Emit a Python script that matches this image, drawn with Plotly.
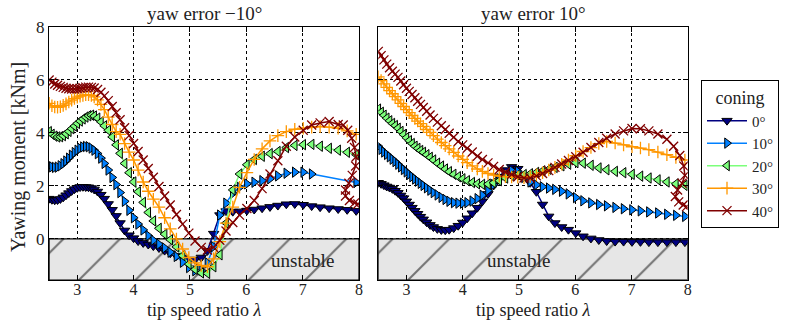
import plotly.graph_objects as go

# ---------------- data ----------------
LAM = [2.50, 2.55, 2.60, 2.65, 2.70, 2.75, 2.80, 2.85, 2.90, 2.95,
       3.00, 3.05, 3.10, 3.15, 3.20, 3.25, 3.30, 3.36, 3.42, 3.48,
       3.55, 3.62, 3.69, 3.76, 3.84, 3.92, 4.00, 4.08, 4.17, 4.26,
       4.35, 4.45, 4.55, 4.65, 4.76, 4.87, 4.98, 5.09, 5.20, 5.31,
       5.42, 5.53, 5.64, 5.76, 5.88, 6.01, 6.14, 6.28, 6.42, 6.56,
       6.71, 6.86, 7.01, 7.16, 7.31, 7.47, 7.63, 7.79, 7.95]

# yaw error -10 deg
L_C0 = [1.52, 1.48, 1.46, 1.47, 1.51, 1.57, 1.65, 1.73, 1.81, 1.88,
        1.93, 1.96, 1.97, 1.96, 1.95, 1.92, 1.87, 1.79, 1.67, 1.52,
        1.32, 1.10, 0.87, 0.60, 0.32, 0.14, 0.03, -0.08, -0.15, -0.21,
        -0.27, -0.34, -0.44, -0.54, -0.64, -0.72, -0.78, -0.78, -0.70, -0.45,
        0.20, 0.90, 1.05, 1.03, 1.04, 1.07, 1.11, 1.16, 1.21, 1.26,
        1.31, 1.32, 1.29, 1.24, 1.20, 1.16, 1.13, 1.10, 1.06]
L_C10 = [2.78, 2.72, 2.70, 2.71, 2.76, 2.84, 2.94, 3.05, 3.16, 3.26,
         3.35, 3.42, 3.47, 3.49, 3.48, 3.43, 3.35, 3.22, 3.05, 2.85,
         2.60, 2.32, 2.05, 1.75, 1.42, 1.08, 0.80, 0.56, 0.34, 0.12,
         -0.05, -0.20, -0.34, -0.50, -0.66, -0.88, -1.08, -1.20, -1.18, -0.90,
         -0.29, 0.90, 1.35, 1.72, 1.95, 2.08, 2.14, 2.20, 2.27, 2.38,
         2.48, 2.52, 2.52, 2.45, None, None, None, None, 2.13]
L_C20 = [4.05, 3.95, 3.88, 3.85, 3.86, 3.90, 3.97, 4.06, 4.16, 4.26,
         4.36, 4.45, 4.53, 4.60, 4.65, 4.67, 4.64, 4.56, 4.42, 4.27,
         4.10, 3.85, 3.55, 3.23, 2.85, 2.50, 2.15, 1.78, 1.38, 1.00,
         0.68, 0.40, 0.18, -0.03, -0.30, -0.63, -0.95, -1.15, -1.28, -1.30,
         -1.05, -0.60, 0.60, 1.85, 2.45, 2.80, 3.00, 3.12, 3.22, 3.30,
         3.45, 3.53, 3.56, 3.57, 3.50, 3.42, 3.35, 3.27, 3.18]
L_C30 = [5.12, 5.03, 4.98, 4.97, 4.99, 5.04, 5.10, 5.17, 5.24, 5.30,
         5.35, 5.39, 5.42, 5.44, 5.44, 5.42, 5.36, 5.25, 5.08, 4.88,
         4.60, 4.32, 4.05, 3.95, 3.60, 3.28, 2.98, 2.60, 2.15, 1.80,
         1.50, 1.20, 0.80, 0.38, 0.00, -0.38, -0.70, -0.90, -1.00, -1.05,
         -0.75, -0.10, 0.60, 1.20, 1.95, 2.50, 3.00, 3.40, 3.70, 3.90,
         4.05, 4.14, 4.18, 4.22, 4.24, 4.22, 4.18, 4.08, 3.95]
L_C40_X = LAM[:57] + [7.72, 7.80, 7.87, 7.92, 7.95, 7.94, 7.88, 7.82,
                      7.76, 7.76, 7.83, 7.92, 7.98]
L_C40 = [6.00, 5.92, 5.85, 5.80, 5.76, 5.72, 5.69, 5.67, 5.66, 5.66,
         5.67, 5.69, 5.71, 5.73, 5.73, 5.72, 5.70, 5.64, 5.54, 5.40,
         5.22, 5.00, 4.76, 4.50, 4.20, 3.90, 3.60, 3.30, 2.98, 2.66,
         2.33, 1.98, 1.62, 1.28, 0.92, 0.56, 0.22, -0.08, -0.32, -0.42,
         -0.32, -0.05, 0.30, 0.62, 0.90, 1.15, 1.45, 1.90, 2.45, 2.95,
         3.50, 3.85, 4.10, 4.30, 4.38, 4.43, 4.32,
         4.30, 4.10, 3.80, 3.45, 3.10, 2.75, 2.40, 2.10,
         1.85, 1.62, 1.45, 1.36, 1.32]

# yaw error +10 deg
R_C0 = [2.12, 2.08, 2.03, 1.98, 1.94, 1.89, 1.82, 1.74, 1.64, 1.54,
        1.42, 1.30, 1.18, 1.06, 0.95, 0.84, 0.74, 0.63, 0.53, 0.45,
        0.38, 0.34, 0.33, 0.35, 0.41, 0.50, 0.62, 0.78, 0.97, 1.18,
        1.42, 1.70, 2.02, 2.35, 2.60, 2.72, 2.65, 2.40, 2.12, 1.78,
        1.30, 0.85, 0.60, 0.45, 0.35, 0.22, 0.10, 0.02, -0.04, -0.08,
        -0.10, -0.10, -0.11, -0.11, -0.12, -0.12, -0.12, -0.12, -0.12]
R_C10 = [3.50, 3.38, 3.28, 3.19, 3.10, 3.01, 2.92, 2.82, 2.72, 2.62,
         2.53, 2.44, 2.35, 2.26, 2.18, 2.10, 2.02, 1.93, 1.84, 1.75,
         1.66, 1.57, 1.49, 1.42, 1.37, 1.35, 1.35, 1.37, 1.43, 1.52,
         1.65, 1.83, 2.05, 2.27, 2.45, 2.58, 2.55, 2.32, 2.15, 2.04,
         1.97, 1.92, 1.87, 1.80, 1.70, 1.56, 1.44, 1.36, 1.30, 1.25,
         1.19, 1.14, 1.10, 1.06, 1.02, 0.98, 0.93, 0.89, 0.85]
R_C20 = [4.90, 4.78, 4.67, 4.56, 4.46, 4.36, 4.28, 4.18, 4.06, 3.94,
         3.82, 3.71, 3.60, 3.50, 3.42, 3.34, 3.27, 3.18, 3.08, 2.98,
         2.86, 2.75, 2.64, 2.54, 2.44, 2.35, 2.27, 2.20, 2.13, 2.08,
         2.06, 2.07, 2.12, 2.20, 2.30, 2.38, 2.42, 2.43, 2.46, 2.51,
         2.57, 2.63, 2.70, 2.76, 2.82, 2.88, 2.86, 2.78, 2.68, 2.61,
         2.55, 2.50, 2.44, 2.37, 2.30, 2.23, 2.15, 2.08, 2.02]
R_C30 = [6.12, 5.98, 5.85, 5.72, 5.60, 5.48, 5.37, 5.25, 5.12, 5.00,
         4.88, 4.77, 4.66, 4.55, 4.45, 4.35, 4.25, 4.13, 4.02, 3.90,
         3.77, 3.64, 3.52, 3.40, 3.27, 3.13, 3.00, 2.88, 2.76, 2.64,
         2.55, 2.47, 2.41, 2.37, 2.35, 2.34, 2.33, 2.31, 2.35, 2.42,
         2.50, 2.60, 2.70, 2.82, 2.98, 3.14, 3.30, 3.45, 3.60, 3.68,
         3.62, 3.55, 3.48, 3.43, 3.37, 3.28, 3.18, 3.08, 2.98]
R_C40_X = LAM[:57] + [7.75, 7.86, 7.93, 7.95, 7.90, 7.82, 7.78, 7.84,
                      7.92, 7.98]
R_C40 = [7.08, 6.92, 6.76, 6.60, 6.46, 6.33, 6.22, 6.10, 5.96, 5.82,
         5.69, 5.57, 5.45, 5.33, 5.20, 5.08, 4.96, 4.82, 4.68, 4.55,
         4.41, 4.27, 4.13, 3.99, 3.84, 3.68, 3.55, 3.42, 3.28, 3.12,
         3.00, 2.87, 2.74, 2.62, 2.52, 2.43, 2.35, 2.30, 2.30, 2.38,
         2.47, 2.58, 2.70, 2.83, 2.96, 3.10, 3.27, 3.45, 3.64, 3.80,
         3.96, 4.08, 4.17, 4.16, 4.08, 3.96, 3.76,
         3.50, 3.15, 2.75, 2.40, 2.10, 1.85, 1.60, 1.40, 1.28, 1.22]

CONING = ["0°", "10°", "20°", "30°", "40°"]
PANEL_TITLES = ["yaw error \u221210°", "yaw error 10°"]
X_TICKS = [3, 4, 5, 6, 7, 8]
Y_TICKS = [0, 2, 4, 6, 8]
X_RANGE = [2.5, 8.0]
Y_RANGE = [-1.55, 8.0]

# ---------------- style ----------------
COLORS = ["#000080", "#0080ff", "#7cff7b", "#ff9700", "#800000"]
SYMBOLS = ["triangle-down", "triangle-right", "triangle-left", "cross-thin", "x-thin"]
FONT = "Liberation Serif"
FS = 19
TXT = "#222222"

fig = go.Figure()

panels = [
    (["x", "y"], [(LAM, L_C0), (LAM, L_C10), (LAM, L_C20), (LAM, L_C30), (L_C40_X, L_C40)]),
    (["x2", "y2"], [(LAM, R_C0), (LAM, R_C10), (LAM, R_C20), (LAM, R_C30), (R_C40_X, R_C40)]),
]

for pi, (ax, series) in enumerate(panels):
    # hatched unstable region
    fig.add_trace(go.Scatter(
        x=[X_RANGE[0], X_RANGE[1], X_RANGE[1], X_RANGE[0], X_RANGE[0]],
        y=[0, 0, Y_RANGE[0], Y_RANGE[0], 0],
        xaxis=ax[0], yaxis=ax[1], mode="lines", fill="toself",
        fillcolor="#e6e6e6",
        fillpattern=dict(shape="/", fgcolor="black", bgcolor="#e6e6e6",
                         size=40, solidity=0.05),
        line=dict(color="black", width=1.2), showlegend=False, hoverinfo="skip"))
    for i, (xs, ys) in enumerate(series):
        c = COLORS[i]
        if i < 3:
            mk = dict(symbol=SYMBOLS[i], size=9, color=c,
                      line=dict(color="black", width=1))
        else:
            mk = dict(symbol=SYMBOLS[i], size=9, color=c,
                      line=dict(color=c, width=1.3))
        fig.add_trace(go.Scatter(
            x=xs, y=ys, xaxis=ax[0], yaxis=ax[1], mode="lines+markers",
            connectgaps=True,
            line=dict(color=c, width=1.5), marker=mk,
            name=CONING[i], showlegend=(pi == 0)))

axis_common = dict(showline=True, linecolor="black", linewidth=1.2, mirror="ticks",
                   ticks="inside", ticklen=5, tickcolor="black",
                   showgrid=True, gridcolor="black", griddash="dot", gridwidth=1,
                   zeroline=False, automargin=False,
                   tickfont=dict(family=FONT, size=17, color=TXT))

xl = [49.1 / 799, 359.0 / 799]
xr = [378.3 / 799, 687.7 / 799]
yd = [(321 - 280.0) / 321, (321 - 27.0) / 321]

xtick_font = dict(family=FONT, size=16, color=TXT)

fig.update_layout(
    width=799, height=321, margin=dict(l=0, r=0, t=0, b=0),
    paper_bgcolor="white", plot_bgcolor="white",
    font=dict(family=FONT, size=FS, color=TXT),
    xaxis=dict(domain=xl, range=X_RANGE, tickvals=X_TICKS, anchor="y",
               ticklabelstandoff=-5, **{**axis_common, "tickfont": xtick_font}),
    yaxis=dict(domain=yd, range=Y_RANGE, tickvals=Y_TICKS, anchor="x", **axis_common),
    xaxis2=dict(domain=xr, range=X_RANGE, tickvals=X_TICKS, anchor="y2",
                ticklabelstandoff=-5, **{**axis_common, "tickfont": xtick_font}),
    yaxis2=dict(domain=yd, range=Y_RANGE, tickvals=Y_TICKS, anchor="x2",
                showticklabels=False, **axis_common),
    legend=dict(x=701 / 799, y=1 - 80 / 321, xanchor="left", yanchor="top",
                bordercolor="black", borderwidth=1, bgcolor="white",
                title=dict(text="coning", side="top center",
                           font=dict(family=FONT, size=18, color=TXT)),
                font=dict(family=FONT, size=15, color=TXT),
                itemwidth=40, entrywidth=52, entrywidthmode="pixels",
                tracegroupgap=0),
    showlegend=True,
)

ann = []
for dom, t in zip([xl, xr], PANEL_TITLES):
    cx = (dom[0] + dom[1]) / 2
    ann.append(dict(text=t, x=cx, y=1 - 13 / 321, xref="paper", yref="paper",
                    xanchor="center", yanchor="middle", showarrow=False,
                    font=dict(family=FONT, size=FS, color=TXT)))
    ann.append(dict(text="tip speed ratio <i>λ</i>", x=cx, y=1 - 310 / 321,
                    xref="paper", yref="paper", xanchor="center", yanchor="middle",
                    showarrow=False, font=dict(family=FONT, size=18, color=TXT)))
ann.append(dict(text="unstable", x=7.0, y=-0.82, xref="x", yref="y", showarrow=False,
                xanchor="center", yanchor="middle",
                font=dict(family=FONT, size=FS, color=TXT)))
ann.append(dict(text="unstable", x=5.0, y=-0.82, xref="x2", yref="y2", showarrow=False,
                xanchor="center", yanchor="middle",
                font=dict(family=FONT, size=FS, color=TXT)))
ann.append(dict(text="Yawing moment [kNm]", x=19 / 799, y=1 - 157 / 321,
                xref="paper", yref="paper", textangle=-90, showarrow=False,
                xanchor="center", yanchor="middle",
                font=dict(family=FONT, size=20, color=TXT)))
fig.update_layout(annotations=ann)

fig.write_html("out.html")
